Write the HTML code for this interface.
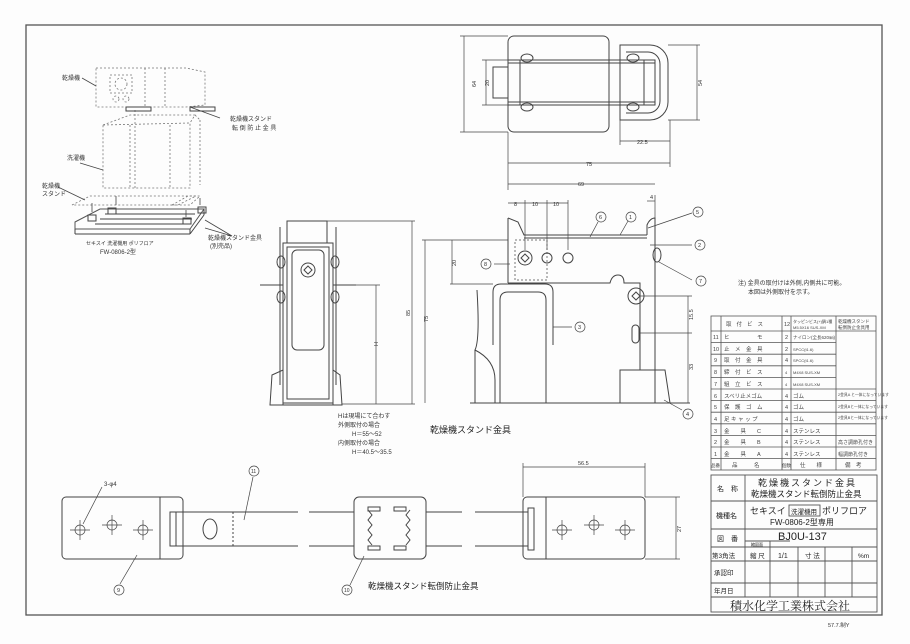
<!DOCTYPE html>
<html><head><meta charset="utf-8"><style>
html,body{margin:0;padding:0;background:#fff;}
svg{display:block;font-family:"Liberation Sans","Noto Sans CJK JP",sans-serif;}
</style></head><body>
<svg width="910" height="644" viewBox="0 0 910 644" xmlns="http://www.w3.org/2000/svg">
<rect width="910" height="644" fill="#fdfdfd"/>
<g fill="none" stroke="#444" stroke-width="1">
<!-- frame -->
<rect x="26" y="25" width="856" height="590" stroke="#555" stroke-width="1.3"/>

<!-- ISO illustration (dashed) -->
<g stroke="#777" stroke-dasharray="2,2" stroke-width="0.8">
<polygon points="96,68 186,68 205,72 205,105 186,107 96,107"/>
<line x1="145" y1="68" x2="145" y2="107"/><line x1="165" y1="68" x2="165" y2="107"/>
<rect x="110" y="75" width="22" height="18"/><circle cx="121" cy="84" r="6"/>
<circle cx="116" cy="99" r="3"/><circle cx="126" cy="99" r="3"/>
<polygon points="103,125 130,115 195,115 190,123 190,188 103,188"/>
<line x1="130" y1="125" x2="130" y2="188"/><line x1="103" y1="125" x2="190" y2="123"/>
<line x1="170" y1="125" x2="170" y2="188"/><line x1="135" y1="110" x2="135" y2="188"/>
<line x1="195" y1="115" x2="200" y2="120"/><line x1="200" y1="120" x2="200" y2="185"/>
<polygon points="72,205 90,196 196,196 178,205"/>
<polygon points="172,205 188,196 200,196 190,205"/>
</g>
<polygon points="75,222 100,209 204,209 190,229 75,229" stroke="#555"/>
<line x1="75" y1="229" x2="75" y2="234"/><line x1="75" y1="234" x2="190" y2="234"/><line x1="190" y1="229" x2="190" y2="234"/><line x1="190" y1="234" x2="204" y2="215"/><line x1="204" y1="209" x2="204" y2="215"/>
<line x1="105" y1="214" x2="195" y2="214"/><line x1="100" y1="219" x2="192" y2="219"/><line x1="95" y1="224" x2="188" y2="224"/>
<rect x="88" y="215" width="8" height="6"/><rect x="108" y="208" width="8" height="6"/><rect x="183" y="218" width="8" height="6"/><rect x="198" y="207" width="8" height="6"/>
<g stroke-width="0.8"><line x1="92" y1="203" x2="92" y2="212"/><line x1="116" y1="196" x2="116" y2="205"/><line x1="186" y1="210" x2="186" y2="217"/><line x1="200" y1="198" x2="200" y2="205"/>
<line x1="82" y1="78" x2="96" y2="86"/><line x1="190" y1="107" x2="220" y2="118"/><line x1="80" y1="163" x2="103" y2="170"/><line x1="58" y1="187" x2="85" y2="200"/><line x1="205" y1="228" x2="232" y2="236"/><line x1="205" y1="220" x2="232" y2="236"/></g>
<rect x="126" y="107" width="25" height="4"/><rect x="190" y="107" width="25" height="4"/>

<!-- top view -->
<rect x="508" y="36" width="101" height="96" rx="6"/>
<path d="M620,45 H650 A18,18 0 0 1 668,63 V102 A18,18 0 0 1 650,120 H620 Z"/>
<path d="M626,52 H648 A12,12 0 0 1 660,64 V101 A12,12 0 0 1 648,113 H626"/>
<rect x="493" y="67" width="15" height="31"/>
<rect x="508" y="60" width="147" height="45"/>
<line x1="520" y1="60" x2="520" y2="105"/><line x1="644" y1="60" x2="644" y2="105"/><line x1="508" y1="63" x2="655" y2="63"/><line x1="508" y1="102" x2="655" y2="102"/>
<ellipse cx="527" cy="58" rx="6" ry="4"/><ellipse cx="527" cy="107" rx="6" ry="4"/><ellipse cx="633" cy="58" rx="6" ry="4"/><ellipse cx="633" cy="107" rx="6" ry="4"/>
<g stroke-width="0.7">
<line x1="464" y1="36" x2="464" y2="132"/><line x1="460" y1="36" x2="508" y2="36"/><line x1="460" y1="132" x2="508" y2="132"/>
<line x1="486" y1="60" x2="486" y2="105"/><line x1="482" y1="60" x2="508" y2="60"/><line x1="482" y1="105" x2="508" y2="105"/>
<line x1="697" y1="45" x2="697" y2="120"/><line x1="668" y1="45" x2="700" y2="45"/><line x1="668" y1="120" x2="700" y2="120"/>
<line x1="620" y1="141" x2="670" y2="141"/><line x1="620" y1="120" x2="620" y2="145"/><line x1="670" y1="120" x2="670" y2="167"/>
<line x1="508" y1="163" x2="670" y2="163"/><line x1="508" y1="132" x2="508" y2="190"/>
<line x1="508" y1="184" x2="655" y2="184"/>
</g>

<!-- front view -->
<rect x="287" y="221" width="40" height="22"/>
<rect x="283" y="243" width="50" height="160"/>
<rect x="287" y="247" width="42" height="152"/>
<rect x="292" y="250" width="32" height="100" rx="5"/>
<line x1="260" y1="285" x2="283" y2="285"/><line x1="333" y1="285" x2="356" y2="285"/>
<line x1="280" y1="227" x2="280" y2="385"/><line x1="336" y1="227" x2="336" y2="385"/>
<polygon points="270,405 272,375 283,370 283,405"/><polygon points="342,405 340,375 333,370 333,405"/>
<line x1="270" y1="405" x2="342" y2="405"/>
<circle cx="308" cy="270" r="7"/><path d="M308,266 L312,270 L308,274 L304,270 Z"/>
<ellipse cx="281" cy="262" rx="4" ry="6"/><ellipse cx="335" cy="262" rx="4" ry="6"/><ellipse cx="281" cy="297" rx="4" ry="6"/><ellipse cx="335" cy="297" rx="4" ry="6"/>
<g stroke-width="0.7">
<line x1="327" y1="221" x2="415" y2="221"/><line x1="412" y1="221" x2="412" y2="404"/>
<line x1="356" y1="285" x2="380" y2="285"/><line x1="376" y1="285" x2="376" y2="404"/>
<line x1="342" y1="404" x2="415" y2="404"/></g>

<!-- side view -->
<path d="M508,218 L518,222 L524,235 L647,235"/><line x1="508" y1="218" x2="508" y2="283"/>
<line x1="524" y1="238" x2="647" y2="238"/>
<path d="M647,235 L647,225 Q650,218 655,218 L655,403"/>
<path d="M508,283 L610,283 Q612,275 618,275 Q624,275 624,283 L640,283 L640,290"/>
<rect x="515" y="240" width="32" height="40" stroke-dasharray="2,2" stroke="#777"/>
<circle cx="525" cy="258" r="7"/><path d="M525,254 L529,258 L525,262 L521,258 Z"/>
<circle cx="547" cy="258" r="5"/><circle cx="568" cy="258" r="5"/>
<path d="M493,345 V292 Q493,284 501,284 H545 Q553,284 553,292 V345"/>
<path d="M500,403 V300 Q500,292 508,292 H538 Q546,292 546,300 V403"/>
<path d="M477,290 Q480,340 475,350 Q495,360 495,380 V403"/>
<line x1="475" y1="350" x2="475" y2="403"/>
<circle cx="636" cy="296" r="8"/><path d="M636,292 L640,296 L636,300 L632,296 Z"/>
<rect x="632" y="325" width="7" height="18" rx="3.5"/>
<line x1="640" y1="290" x2="640" y2="370"/>
<polygon points="620,403 620,370 665,370 670,403"/>
<line x1="470" y1="403" x2="690" y2="403"/>
<ellipse cx="657" cy="255" rx="4" ry="7"/>
<g stroke-width="0.7">
<line x1="425" y1="240" x2="425" y2="403"/><line x1="422" y1="240" x2="508" y2="240"/>
<line x1="452" y1="240" x2="452" y2="284"/><line x1="450" y1="284" x2="493" y2="284"/>
<line x1="508" y1="203" x2="568" y2="203"/><line x1="525" y1="200" x2="525" y2="250"/><line x1="547" y1="200" x2="547" y2="250"/><line x1="568" y1="200" x2="568" y2="250"/>
<line x1="647" y1="201" x2="655" y2="201"/><line x1="655" y1="195" x2="655" y2="218"/>
<line x1="640" y1="296" x2="692" y2="296"/><line x1="688" y1="296" x2="688" y2="403"/><line x1="640" y1="333" x2="692" y2="333"/>
<line x1="648" y1="228" x2="692" y2="213"/><line x1="650" y1="245" x2="692" y2="245"/><line x1="659" y1="262" x2="692" y2="280"/>
<line x1="620" y1="235" x2="628" y2="221"/><line x1="590" y1="237" x2="598" y2="222"/>
<line x1="553" y1="327" x2="572" y2="327"/><line x1="510" y1="264" x2="494" y2="264"/><line x1="664" y1="400" x2="682" y2="410"/>
</g>
<g stroke-width="0.7"><circle cx="698" cy="212" r="5"/><circle cx="700" cy="245" r="5"/><circle cx="701" cy="281" r="5"/><circle cx="631" cy="217" r="5"/><circle cx="601" cy="217" r="5"/><circle cx="580" cy="327" r="5"/><circle cx="486" cy="264" r="5"/><circle cx="688" cy="414" r="5"/></g>

<!-- bottom strip -->
<rect x="62" y="497" width="121" height="62" rx="4"/><line x1="160" y1="497" x2="160" y2="559"/>
<rect x="170" y="512" width="6" height="34"/>
<line x1="176" y1="512" x2="298" y2="512"/><line x1="176" y1="546" x2="298" y2="546"/>
<line x1="233" y1="512" x2="233" y2="546" stroke-dasharray="2,2"/>
<ellipse cx="210" cy="529" rx="7" ry="10"/>
<line x1="309" y1="512" x2="354" y2="512"/><line x1="309" y1="546" x2="354" y2="546"/>
<rect x="354" y="497" width="72" height="62" rx="5"/>
<path d="M368,510 L372,515 L368,520 L372,525 L368,530 L372,535 L368,540 L372,545"/>
<path d="M410,510 L406,515 L410,520 L406,525 L410,530 L406,535 L410,540 L406,545"/>
<rect x="368" y="507" width="12" height="4"/><rect x="394" y="507" width="12" height="4"/><rect x="368" y="546" width="12" height="4"/><rect x="394" y="546" width="12" height="4"/>
<line x1="426" y1="512" x2="462" y2="512"/><line x1="426" y1="546" x2="462" y2="546"/>
<line x1="475" y1="512" x2="528" y2="512"/><line x1="475" y1="546" x2="528" y2="546"/>
<rect x="528" y="508" width="6" height="42"/>
<rect x="523" y="497" width="122" height="62" rx="4"/><line x1="546" y1="497" x2="546" y2="559"/>
<g stroke-width="0.7">
<circle cx="80" cy="530" r="5"/><circle cx="112" cy="525" r="5"/><circle cx="143" cy="530" r="5"/>
<circle cx="562" cy="530" r="5"/><circle cx="594" cy="525" r="5"/><circle cx="625" cy="530" r="5"/>
<line x1="70" y1="530" x2="90" y2="530"/><line x1="80" y1="520" x2="80" y2="540"/><line x1="102" y1="525" x2="122" y2="525"/><line x1="112" y1="515" x2="112" y2="535"/><line x1="133" y1="530" x2="153" y2="530"/><line x1="143" y1="520" x2="143" y2="540"/>
<line x1="552" y1="530" x2="572" y2="530"/><line x1="562" y1="520" x2="562" y2="540"/><line x1="584" y1="525" x2="604" y2="525"/><line x1="594" y1="515" x2="594" y2="535"/><line x1="615" y1="530" x2="635" y2="530"/><line x1="625" y1="520" x2="625" y2="540"/>
<line x1="523" y1="467" x2="645" y2="467"/><line x1="523" y1="463" x2="523" y2="497"/><line x1="645" y1="463" x2="645" y2="497"/>
<line x1="645" y1="497" x2="680" y2="497"/><line x1="645" y1="559" x2="680" y2="559"/><line x1="676" y1="497" x2="676" y2="559"/>
<line x1="102" y1="487" x2="83" y2="524"/><line x1="253" y1="477" x2="244" y2="520"/><line x1="137" y1="555" x2="120" y2="584"/><line x1="364" y1="556" x2="350" y2="585"/>
<circle cx="254" cy="471" r="5"/><circle cx="119" cy="590" r="5"/><circle cx="347" cy="590" r="5"/>
</g>

<!-- parts table -->
<g stroke="#555" stroke-width="0.8">
<rect x="711" y="316" width="165" height="154"/>
<line x1="721" y1="316" x2="721" y2="470"/><line x1="782" y1="316" x2="782" y2="470"/><line x1="791" y1="316" x2="791" y2="470"/><line x1="836" y1="316" x2="836" y2="470"/>
<line x1="711" y1="331" x2="876" y2="331"/><line x1="711" y1="342.6" x2="836" y2="342.6"/><line x1="711" y1="354.2" x2="836" y2="354.2"/><line x1="711" y1="365.8" x2="836" y2="365.8"/><line x1="711" y1="377.4" x2="836" y2="377.4"/><line x1="711" y1="389" x2="876" y2="389"/><line x1="711" y1="400.6" x2="876" y2="400.6"/><line x1="711" y1="412.2" x2="876" y2="412.2"/><line x1="711" y1="423.8" x2="876" y2="423.8"/><line x1="711" y1="435.4" x2="876" y2="435.4"/><line x1="711" y1="447" x2="876" y2="447"/><line x1="711" y1="458.6" x2="876" y2="458.6"/>
</g>
<!-- title block -->
<g stroke="#555" stroke-width="0.9">
<rect x="711" y="475" width="166" height="137"/>
<line x1="745" y1="475" x2="745" y2="597"/>
<line x1="711" y1="501" x2="877" y2="501"/><line x1="711" y1="529" x2="877" y2="529"/><line x1="711" y1="547" x2="877" y2="547"/><line x1="711" y1="561" x2="877" y2="561"/><line x1="711" y1="583" x2="877" y2="583"/><line x1="711" y1="597" x2="877" y2="597"/>
<line x1="770" y1="541" x2="770" y2="597"/><line x1="798" y1="547" x2="798" y2="597"/><line x1="825" y1="547" x2="825" y2="597"/><line x1="852" y1="547" x2="852" y2="597"/>
<line x1="745" y1="541" x2="790" y2="541"/>
<rect x="789" y="505" width="31" height="11"/>
</g>
</g>

<g fill="#333" font-size="6">
<text x="62" y="80">乾燥機</text>
<text x="230" y="121">乾燥機スタンド</text><text x="232" y="130">転 倒 防 止 金 具</text>
<text x="67" y="160">洗濯機</text>
<text x="42" y="188">乾燥機</text><text x="42" y="196">スタンド</text>
<text x="208" y="240">乾燥機スタンド金具</text><text x="210" y="248">(別売品)</text>
<text x="86" y="245" font-size="5">セキスイ 洗濯機用 ポリフロア</text><text x="100" y="254" font-size="6">FW-0806-2型</text>
<text x="338" y="418">Hは現場にて合わす</text><text x="338" y="427">外側取付の場合</text><text x="352" y="436">H＝55～52</text><text x="338" y="445">内側取付の場合</text><text x="352" y="454">H＝40.5～35.5</text>
<text x="738" y="285">注) 金具の取付けは外側,内側共に可能。</text><text x="748" y="294">本図は外側取付を示す。</text>
<text x="104" y="486">3-φ4</text>
<text x="828" y="627" font-size="5.5">57.7.制Y</text>
<g font-size="5.5">
<text x="476" y="87" transform="rotate(-90 476 87)">64</text><text x="489" y="86" transform="rotate(-90 489 86)">20</text><text x="702" y="86" transform="rotate(-90 702 86)">54</text>
<text x="637" y="144">22.5</text><text x="586" y="166">75</text><text x="578" y="186">69</text>
<text x="514" y="206">8</text><text x="532" y="206">10</text><text x="553" y="206">10</text><text x="650" y="199">4</text>
<text x="410" y="316" transform="rotate(-90 410 316)">85</text><text x="428" y="322" transform="rotate(-90 428 322)">75</text><text x="456" y="266" transform="rotate(-90 456 266)">20</text><text x="378" y="346" transform="rotate(-90 378 346)">H</text>
<text x="693" y="320" transform="rotate(-90 693 320)">15.5</text><text x="693" y="370" transform="rotate(-90 693 370)">33</text>
<text x="578" y="465">56.5</text><text x="681" y="532" transform="rotate(-90 681 532)">27</text>
<text x="696" y="214">5</text><text x="698" y="247">2</text><text x="699" y="283">7</text><text x="629" y="219">1</text><text x="599" y="219">6</text><text x="578" y="329">3</text><text x="484" y="266">8</text><text x="686" y="416">4</text>
<text x="251" y="473" font-size="5">11</text><text x="117" y="592">9</text><text x="344" y="592" font-size="5">10</text>
</g>
</g>
<g fill="#222">
<text x="430" y="433" font-size="9">乾燥機スタンド金具</text>
<text x="368" y="589" font-size="8.5">乾燥機スタンド転倒防止金具</text>
</g>
<!-- table text -->
<g fill="#444" font-size="5.5">
<text x="726" y="326" letter-spacing="5">取付ビス</text><text x="784" y="326">12</text><text x="793" y="323" font-size="4">タッピンビス(+)鍋1種</text><text x="793" y="329" font-size="4">M5.5X16 SUS-XM</text><text x="838" y="323" font-size="4.5">乾燥機スタンド</text><text x="838" y="329" font-size="4.5">転倒防止金具用</text>
<text x="713" y="339">11</text><text x="724" y="339">ヒ　　　　　モ</text><text x="785" y="339">2</text><text x="793" y="339" font-size="4.5">ナイロン(全長620㎜)</text>
<text x="713" y="351">10</text><text x="724" y="351">止　メ　金　具</text><text x="785" y="351">2</text><text x="793" y="351" font-size="4">SPCC(t1.6)</text>
<text x="714" y="362">9</text><text x="724" y="362">取　付　金　具</text><text x="785" y="362">4</text><text x="793" y="362" font-size="4">SPCC(t1.6)</text>
<text x="714" y="374">8</text><text x="724" y="374">締　付　ビ　ス</text><text x="785" y="374" font-size="4">4</text><text x="793" y="374" font-size="4">M4X8 SUS-XM</text>
<text x="714" y="386">7</text><text x="724" y="386">組　立　ビ　ス</text><text x="785" y="386" font-size="4">4</text><text x="793" y="386" font-size="4">M4X8 SUS-XM</text>
<text x="714" y="398">6</text><text x="724" y="398">スベリ止メゴム</text><text x="785" y="398">4</text><text x="793" y="398">ゴム</text><text x="838" y="396" font-size="3.8">2金具A と一体になっています</text>
<text x="714" y="409">5</text><text x="724" y="409">保　護　ゴ　ム</text><text x="785" y="409">4</text><text x="793" y="409">ゴム</text><text x="838" y="408" font-size="3.8">2金具Bと一体になっています</text>
<text x="714" y="421">4</text><text x="724" y="421">足 キ ャ ッ プ</text><text x="785" y="421">4</text><text x="793" y="421">ゴム</text><text x="838" y="419" font-size="3.8">2金具Bと一体になっています</text>
<text x="714" y="433">3</text><text x="724" y="433">金　　具　　C</text><text x="785" y="433">4</text><text x="793" y="433">ステンレス</text>
<text x="714" y="444">2</text><text x="724" y="444">金　　具　　B</text><text x="785" y="444">4</text><text x="793" y="444">ステンレス</text><text x="838" y="444" font-size="5">高さ調節孔付き</text>
<text x="714" y="456">1</text><text x="724" y="456">金　　具　　A</text><text x="785" y="456">4</text><text x="793" y="456">ステンレス</text><text x="838" y="456" font-size="5">幅調節孔付き</text>
<text x="711" y="467" font-size="4.5">品番</text><text x="732" y="467">品　　　名</text><text x="782" y="467" font-size="4.5">個数</text><text x="800" y="467">仕　　様</text><text x="845" y="467">備　考</text>
</g>
<g fill="#222">
<text x="717" y="491" font-size="7">名　称</text>
<text x="758" y="486" font-size="9" letter-spacing="2">乾燥機スタンド金具</text>
<text x="751" y="497" font-size="8.5">乾燥機スタンド転倒防止金具</text>
<text x="716" y="518" font-size="7">機種名</text>
<text x="750" y="514" font-size="9">セキスイ</text><text x="791" y="514" font-size="6.5">洗濯機用</text><text x="822" y="514" font-size="9">ポリフロア</text>
<text x="770" y="525" font-size="8">FW-0806-2型専用</text>
<text x="717" y="541" font-size="7">図　番</text>
<text x="778" y="540" font-size="11">BJ0U-137</text>
<text x="751" y="546" font-size="4">縮図面</text>
<text x="712" y="558" font-size="6.5">第3角法</text><text x="750" y="558" font-size="6.5">縮 尺</text><text x="778" y="558" font-size="7">1/1</text><text x="805" y="558" font-size="6.5">寸 法</text><text x="858" y="558" font-size="6.5">%m</text>
<text x="714" y="575" font-size="6.5">承認印</text>
<text x="714" y="593" font-size="6.5">年月日</text>
<text x="730" y="610" font-size="12" font-family="'Noto Serif CJK SC','Liberation Serif',serif">積水化学工業株式会社</text>
</g>
</svg>
</body></html>
